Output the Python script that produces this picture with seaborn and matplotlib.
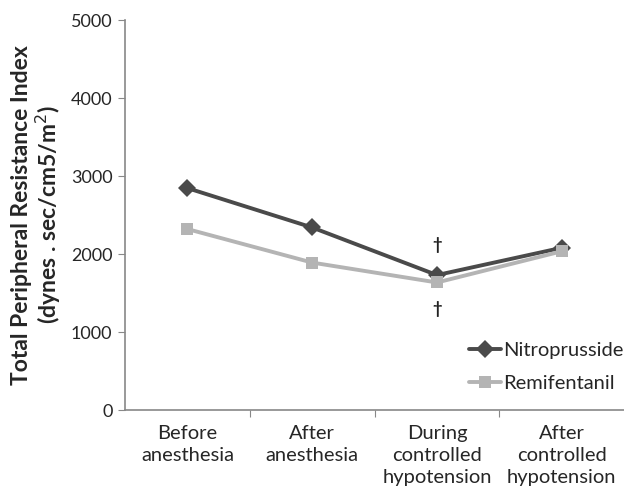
import pandas as pd
import matplotlib
matplotlib.use("Agg")
import matplotlib.pyplot as plt
import seaborn as sns

# --- Data ---
categories = ["Before\nanesthesia", "After\nanesthesia", "During\ncontrolled\nhypotension",
              "After\ncontrolled\nhypotension"]
nitroprusside = [2845, 2340, 1730, 2080]
remifentanil = [2320, 1890, 1635, 2035]
y_ticks = [0, 1000, 2000, 3000, 4000, 5000]
dagger_points = [(2, 2115), (2, 1300)]

sns.set_style("white")
plt.rcParams["font.family"] = ["Lato", "DejaVu Sans"]

df = pd.DataFrame({
    "pos": list(range(len(categories))) * 2,
    "value": nitroprusside + remifentanil,
    "group": ["Nitroprusside"] * len(categories) + ["Remifentanil"] * len(categories),
})

fig = plt.figure(figsize=(6.24, 4.94), dpi=100)
ax = fig.add_axes([0.2003, 0.17, 0.80, 0.7895])

sns.lineplot(data=df, x="pos", y="value", hue="group", style="group",
             palette={"Nitroprusside": "#4a4a4a", "Remifentanil": "#b4b4b4"},
             markers={"Nitroprusside": "D", "Remifentanil": "s"},
             dashes=False, linewidth=2.8, markersize=9, markeredgewidth=0,
             ax=ax)

for x, y in dagger_points:
    ax.text(x, y, "†", ha="center", va="center", fontsize=12, fontweight="bold", color="#222222")

ax.set_xlim(-0.5, 3.5)
ax.set_ylim(0, 5000)
ax.set_yticks(y_ticks)
ax.set_yticklabels([str(t) for t in y_ticks], fontsize=13)

# boundary ticks on the x axis, labels sit between them
ax.set_xticks([0.5, 1.5, 2.5])
ax.set_xticklabels([])
ax.set_xticks(range(len(categories)), minor=True)
ax.set_xticklabels(categories, minor=True, fontsize=14.5, linespacing=1.35)
ax.tick_params(axis="x", which="minor", length=0, pad=11)
ax.tick_params(axis="x", which="major", direction="out", length=5, color="#888888", bottom=True)
ax.tick_params(axis="y", direction="out", length=5, color="#888888", left=True, pad=4)

ax.set_xlabel("")
ax.set_ylabel("Total Peripheral Resistance Index\n(dynes . sec/cm5/m$^2$)",
              fontsize=16.5, fontweight="bold", labelpad=6, linespacing=1.05)

sns.despine(ax=ax)
for side in ["left", "bottom"]:
    ax.spines[side].set_color("#888888")
    ax.spines[side].set_linewidth(1.2)

leg = ax.legend(loc="lower right", bbox_to_anchor=(1.035, 0.0), frameon=False,
                fontsize=14.5, handlelength=1.6, handletextpad=0.1, labelspacing=0.8)

fig.savefig("out.png", dpi=100)
